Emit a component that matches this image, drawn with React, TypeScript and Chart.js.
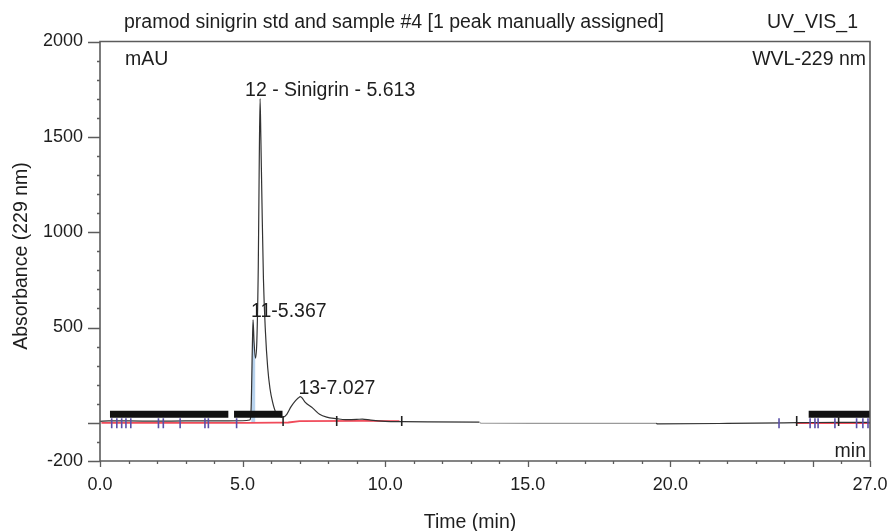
import React, { useEffect, useRef } from 'react';
import { Chart, registerables } from 'chart.js';

Chart.register(...registerables);

// ---- data ----
const timeMin = [0, 0.3, 1.0, 2.0, 3.0, 4.0, 5.0, 5.25, 5.30, 5.34, 5.367, 5.40, 5.45, 5.50, 5.55, 5.58, 5.613, 5.64, 5.68, 5.73, 5.80, 5.88, 5.96, 6.05, 6.15, 6.30, 6.42, 6.55, 6.70, 6.85, 6.95, 7.027, 7.10, 7.19, 7.47, 7.70, 7.95, 8.30, 8.60, 9.00, 9.20, 9.50, 10.0, 10.6, 11.5, 13.3, 13.35, 16.0, 19.5, 19.55, 22.0, 24.0, 25.0, 26.0, 27.0];
const absorbance = [8, 10, 10, 9, 10, 10, 11, 15, 80, 380, 540, 430, 340, 430, 820, 1300, 1700, 1500, 1150, 760, 480, 290, 180, 110, 60, 35, 30, 45, 85, 115, 130, 138, 128, 109, 76, 45, 30, 22, 17, 18, 20, 14, 8, 6, 5, 4, -2, -3, -3, -5, -3, 0, 2, 3, 3];

const baseLeftTime = [0.05, 5.2, 6.2, 6.6, 7.0, 9.2, 10.5];
const baseLeftValue = [0, 0, 1, 2, 9, 10, 9];
const baseRightTime = [24.4, 27.0];
const baseRightValue = [-1, -1];

const delimiterTimes = [0.41, 0.59, 0.76, 0.91, 1.08, 2.05, 2.22, 2.81, 3.68, 3.80, 4.79, 23.81, 24.9, 25.07, 25.18, 25.77, 26.53, 26.75, 26.93];
const delimiterBlackTimes = [6.42, 8.30, 10.58, 24.43, 25.9];

const clutterStart = [0.35, 4.7, 24.85];
const clutterEnd = [4.5, 6.4, 27.0];
const clutterLevel = [45, 45, 45];

const peakRT = [5.367, 5.613, 7.027];
const peakApex = [540, 1700, 138];
const peakLabel = ['11-5.367', '12 - Sinigrin - 5.613', '13-7.027'];

const yTickLabels = [2000, 1500, 1000, 500, -200];
const xTickLabels = [0, 5, 10, 15, 20, 27];

const Y_MIN = -200;
const Y_MAX = 2000;
const X_MAX = 27;

const FONT = "'Liberation Sans', Arial, Helvetica, sans-serif";
const TEXT = '#1e1e1e';
const AXIS = '#5c5c5c';

const labelOffsetX = [-2, -15, -2];

const overlayPlugin = {
  id: 'overlay',
  afterDraw(chart: any) {
    const { ctx, chartArea: a, scales } = chart;
    const x = scales.x;
    const y = scales.y;
    ctx.save();
    // frame
    ctx.strokeStyle = AXIS;
    ctx.lineWidth = 1.6;
    ctx.beginPath();
    ctx.moveTo(a.left, a.bottom);
    ctx.lineTo(a.left, a.top);
    ctx.lineTo(a.right, a.top);
    ctx.lineTo(a.right, a.bottom);
    ctx.lineTo(a.left, a.bottom);
    ctx.stroke();
    // ticks
    ctx.lineWidth = 1.3;
    ctx.beginPath();
    for (let v = Y_MIN; v <= Y_MAX; v += 100) {
      const py = Math.round(y.getPixelForValue(v)) + 0.5;
      const major = yTickLabels.includes(v) || v === 0;
      ctx.moveTo(a.left - (major ? 12 : 3), py);
      ctx.lineTo(a.left, py);
    }
    for (let t = 0; t <= X_MAX; t++) {
      const px = Math.round(x.getPixelForValue(t)) + 0.5;
      const major = t % 5 === 0 || t === X_MAX;
      ctx.moveTo(px, a.bottom);
      ctx.lineTo(px, a.bottom + (major ? 6 : 3));
    }
    ctx.stroke();

    // texts
    ctx.fillStyle = TEXT;
    ctx.font = `19.5px ${FONT}`;
    ctx.textBaseline = 'alphabetic';
    ctx.textAlign = 'left';
    ctx.fillText('pramod sinigrin std and sample #4 [1 peak manually assigned]', a.left + 24, 28);
    ctx.textAlign = 'right';
    ctx.fillText('UV_VIS_1', a.right - 12, 28);
    ctx.fillText('WVL-229 nm', a.right - 4, 65);
    ctx.fillText('min', a.right - 4, a.bottom - 4);
    ctx.textAlign = 'left';
    ctx.fillText('mAU', a.left + 25, 65);

    // peak labels
    for (let i = 0; i < peakRT.length; i++) {
      const px = x.getPixelForValue(peakRT[i]);
      const py = y.getPixelForValue(peakApex[i]);
      ctx.fillText(peakLabel[i], px + labelOffsetX[i], py - 3);
    }

    // axis titles
    ctx.textAlign = 'center';
    ctx.fillText('Time (min)', 470, 528);
    ctx.save();
    ctx.translate(22, 256);
    ctx.rotate(-Math.PI / 2);
    ctx.textBaseline = 'middle';
    ctx.fillText('Absorbance (229 nm)', 0, 0);
    ctx.restore();
    ctx.restore();
  },
};

export default function App() {
  const ref = useRef<HTMLCanvasElement>(null);

  useEffect(() => {
    if (!ref.current) return;
    const chromPts = timeMin.map((t, i) => ({ x: t, y: absorbance[i] }));
    const fillPts = chromPts.filter((p) => p.x >= 5.28 && p.x <= 5.46);
    const datasets: any[] = [];

    // baseline (red)
    datasets.push({
      data: baseLeftTime.map((t, i) => ({ x: t, y: baseLeftValue[i] })),
      borderColor: '#f04b5a', borderWidth: 1.8, pointRadius: 0, order: 5,
    });
    datasets.push({
      data: baseRightTime.map((t, i) => ({ x: t, y: baseRightValue[i] })),
      borderColor: '#f04b5a', borderWidth: 1.8, pointRadius: 0, order: 5,
    });
    // peak 11 area fill
    datasets.push({
      data: fillPts, borderWidth: 0, pointRadius: 0, fill: 'origin',
      backgroundColor: 'rgba(160,196,232,0.75)', order: 6, cubicInterpolationMode: 'monotone',
    });
    // cluttered peak labels (unreadable, overlapping)
    clutterStart.forEach((s, i) => {
      datasets.push({
        data: [{ x: s, y: clutterLevel[i] }, { x: clutterEnd[i], y: clutterLevel[i] }],
        borderColor: '#111', borderWidth: 7, borderCapStyle: 'butt', pointRadius: 0, order: 2,
      });
    });
    // chromatogram
    datasets.push({
      data: chromPts, borderColor: '#333', borderWidth: 1.2, pointRadius: 0, order: 3,
      cubicInterpolationMode: 'monotone',
      segment: {
        borderColor: (c: any) => (c.p0.parsed.x >= 13.3 && c.p1.parsed.x <= 19.5 ? '#9a9a9a' : '#333'),
      },
    });
    // peak delimiters
    datasets.push({
      type: 'scatter',
      data: delimiterTimes.map((t) => ({ x: t, y: -2 })),
      pointStyle: 'line', rotation: 90, pointRadius: 5, borderColor: '#5a4fa8', borderWidth: 1.6, order: 1,
    });
    datasets.push({
      type: 'scatter',
      data: delimiterBlackTimes.map((t) => ({ x: t, y: 10 })),
      pointStyle: 'line', rotation: 90, pointRadius: 5, borderColor: '#222', borderWidth: 1.6, order: 1,
    });

    const chart = new Chart(ref.current, {
      type: 'line',
      data: { datasets },
      plugins: [overlayPlugin],
      options: {
        animation: false,
        responsive: false,
        devicePixelRatio: 1,
        layout: { padding: { top: 41.5, right: 21, left: 0, bottom: 0 } },
        plugins: { legend: { display: false }, tooltip: { enabled: false } },
        scales: {
          x: {
            type: 'linear', min: 0, max: X_MAX,
            grid: { display: false, drawTicks: false },
            border: { display: false },
            ticks: {
              stepSize: 1, autoSkip: false, maxRotation: 0, padding: 13,
              color: TEXT, font: { family: FONT, size: 18 },
              callback: (v: any) => (xTickLabels.includes(Number(v)) ? Number(v).toFixed(1) : ''),
            },
            afterFit: (s: any) => { s.height = 70; s.paddingLeft = 0; s.paddingRight = 0; },
          },
          y: {
            type: 'linear', min: Y_MIN, max: Y_MAX,
            grid: { display: false, drawTicks: false },
            border: { display: false },
            ticks: {
              stepSize: 100, autoSkip: false, padding: 17,
              color: TEXT, font: { family: FONT, size: 18 },
              callback: (v: any) => (yTickLabels.includes(Number(v)) ? String(v) : ''),
            },
            afterFit: (s: any) => { s.width = 100; s.paddingTop = 0; s.paddingBottom = 0; },
          },
        },
      } as any,
    });
    return () => chart.destroy();
  }, []);

  return (
    <div style={{ position: 'fixed', left: 0, top: 0, width: 891, height: 531, background: '#fff' }}>
      <canvas ref={ref} width={891} height={531} style={{ width: 891, height: 531, display: 'block' }} />
    </div>
  );
}
